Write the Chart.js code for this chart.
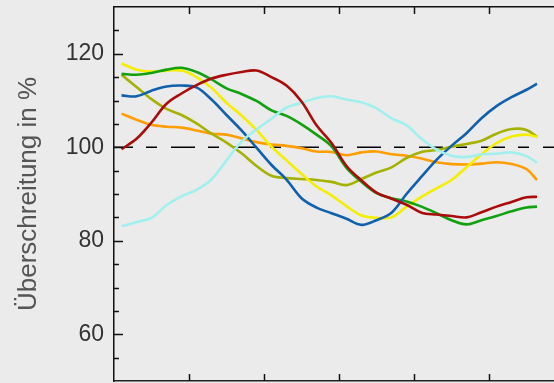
<!DOCTYPE html>
<html>
<head>
<meta charset="utf-8">
<script src="https://cdn.jsdelivr.net/npm/chart.js@4.4.1/dist/chart.umd.min.js"></script>
<style>
  html, body { margin: 0; padding: 0; background: #ebebeb; overflow: hidden; }
  #wrap { width: 554px; height: 383px; overflow: hidden; }
</style>
</head>
<body>
<div id="wrap"><canvas id="chart" width="620" height="383"></canvas></div>
<script>
// x positions (axis units, tick every 5)
var xs = [0.5,1.5,2.5,3.5,4.5,5.5,6.5,7.5,8.5,9.5,10.5,11.5,12.5,13.5,14.5,15.5,16.5,17.5,18.5,19.5,20.5,21.5,22.5,23.5,24.5,25.5,26.5,27.5,28.2];

var blue   = [111.1,110.9,112.1,113.0,113.2,112.8,110.2,106.9,103.6,99.9,96.2,93.1,89.1,87.1,85.9,84.7,83.4,84.4,86.0,90.0,93.7,97.3,100.3,103.0,106.2,108.8,110.7,112.3,113.6];
var green  = [115.7,115.5,115.9,116.6,117.0,116.1,114.5,112.6,111.4,109.9,107.9,106.7,104.9,102.7,100.2,95.6,92.6,90.2,89.1,88.4,87.3,85.9,84.4,83.5,84.4,85.3,86.3,87.1,87.3];
var red    = [99.6,101.8,105.3,109.3,111.5,113.3,114.7,115.5,116.1,116.4,115.0,113.2,109.8,104.7,100.9,96.0,92.9,90.3,89.0,87.7,86.0,85.6,85.3,85.0,86.1,87.3,88.3,89.3,89.4];
var yellow = [117.9,116.6,116.2,116.4,116.4,115.0,112.7,109.5,106.8,103.7,100.1,97.2,94.3,91.6,89.7,87.4,85.4,84.9,85.0,87.3,89.4,91.2,93.0,95.7,98.5,100.9,102.3,102.7,102.2];
var olive  = [115.5,112.9,110.3,108.2,106.9,105.1,102.9,101.0,98.7,96.0,93.9,93.4,93.2,93.0,92.6,91.9,93.2,94.6,95.7,97.7,99.0,99.4,100.1,100.7,101.4,102.9,103.9,103.7,102.2];
var orange = [107.2,105.9,104.8,104.4,104.2,103.6,102.9,102.7,101.9,101.1,100.6,100.3,99.8,99.1,99.0,98.3,98.9,99.1,98.5,98.2,97.6,96.8,96.4,96.3,96.5,96.8,96.4,95.3,93.0];
var cyan   = [83.1,84.0,84.9,87.6,89.5,90.9,93.1,97.2,101.2,103.8,106.1,108.5,109.5,110.5,110.9,110.2,109.6,108.3,106.2,104.7,101.8,99.5,98.2,97.9,98.5,98.6,98.9,98.1,96.7];

var yLabels = [60, 80, 100, 120];
var refLevel = 100;
var xMin = 0, xMax = 506 / 15;

function pts(vals) {
    return vals.map(function (v, i) { return { x: xs[i], y: v }; });
}

function line(vals, color) {
    return {
        data: pts(vals),
        borderColor: color,
        borderWidth: 2.6,
        pointRadius: 0,
        tension: 0.35,
        fill: false
    };
}

// tick marks pointing into the plot
var innerTicks = {
    id: 'innerTicks',
    afterDraw: function (chart) {
        var ctx = chart.ctx, a = chart.chartArea;
        var x = chart.scales.x, y = chart.scales.y;
        ctx.save();
        ctx.strokeStyle = '#111';
        ctx.lineWidth = 1.5;
        ctx.beginPath();
        for (var v = 5; v < xMax; v += 5) {
            var px = Math.round(x.getPixelForValue(v)) + 0.5;
            ctx.moveTo(px, a.top); ctx.lineTo(px, a.top + 7);
            ctx.moveTo(px, a.bottom); ctx.lineTo(px, a.bottom - 7);
        }
        for (var w = 55; w < 130; w += 5) {
            var py = Math.round(y.getPixelForValue(w)) + 0.5;
            var len = (w % 20 === 0) ? 9 : 5;
            ctx.moveTo(a.left, py); ctx.lineTo(a.left + len, py);
        }
        ctx.stroke();
        ctx.restore();
    }
};

new Chart("chart", {
    type: "line",
    data: {
        datasets: [
            line(red, "#aa0c0c"),
            line(cyan, "#a2f0ee"),
            line(blue, "#1060ac"),
            line(green, "#10a010"),
            line(yellow, "#f4ee00"),
            line(olive, "#a6b200"),
            line(orange, "#ff9e00"),
            {
                data: [{ x: xMin, y: refLevel }, { x: xMax, y: refLevel }],
                borderColor: "#000",
                borderWidth: 1.3,
                borderDash: [24, 13, 11, 14],
                borderDashOffset: 5,
                pointRadius: 0,
                fill: false
            }
        ]
    },
    options: {
        responsive: false,
        animation: false,
        devicePixelRatio: 1,
        layout: { padding: 0 },
        plugins: {
            legend: { display: false },
            tooltip: { enabled: false }
        },
        scales: {
            x: {
                type: "linear",
                min: xMin,
                max: xMax,
                position: "bottom",
                ticks: { display: false },
                grid: { drawOnChartArea: false, drawTicks: false },
                border: { display: true, color: "#222", width: 1.5 },
                afterFit: function (s) { s.height = 2; s.paddingLeft = 0; s.paddingRight = 0; }
            },
            x2: {
                type: "linear",
                min: xMin,
                max: xMax,
                position: "top",
                ticks: { display: false },
                grid: { drawOnChartArea: false, drawTicks: false },
                border: { display: true, color: "#111", width: 1.5 },
                afterFit: function (s) { s.height = 7; s.paddingLeft = 0; s.paddingRight = 0; }
            },
            y: {
                min: 50,
                max: 130,
                afterBuildTicks: function (s) {
                    s.ticks = yLabels.map(function (v) { return { value: v }; });
                },
                ticks: {
                    color: "#333",
                    padding: 10,
                    font: { family: "Liberation Sans", size: 23 }
                },
                grid: { drawOnChartArea: false, drawTicks: false },
                border: { display: true, color: "#111", width: 1.5 },
                title: {
                    display: true,
                    text: "Überschreitung in %",
                    color: "#555",
                    font: { family: "Liberation Sans", size: 26 },
                    padding: { top: 13, bottom: 0 }
                },
                afterFit: function (s) {
                    s.width = 114;
                    s.paddingTop = 0;
                    s.paddingBottom = 0;
                }
            }
        }
    },
    plugins: [innerTicks]
});
</script>
</body>
</html>
